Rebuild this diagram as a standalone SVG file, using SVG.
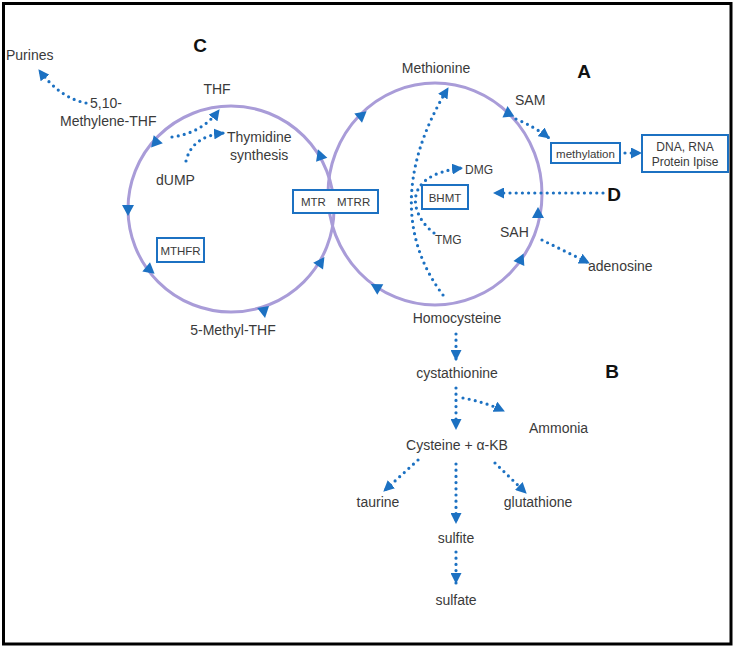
<svg xmlns="http://www.w3.org/2000/svg" xmlns:xlink="http://www.w3.org/1999/xlink" width="734" height="647" viewBox="0 0 734 647">
<style>
.t{font-family:"Liberation Sans",Arial,sans-serif;font-size:14px;fill:#3a3a3a}
.s{font-size:11.5px}
.m{font-size:12px}
.b{font-family:"Liberation Sans",Arial,sans-serif;font-size:19px;font-weight:bold;fill:#111}
.c{text-anchor:middle}
.cyc{fill:none;stroke:#a99cd8;stroke-width:3}
.box{fill:#fff;stroke:#1c71c2;stroke-width:2}
.dot{fill:none;stroke:#1c71c2;stroke-width:3.2;stroke-linecap:round;stroke-dasharray:0 6.2;marker-end:url(#ah)}
.tri{fill:#1c71c2}
</style>
<defs>
<marker id="ah" markerUnits="userSpaceOnUse" viewBox="0 0 11 11" markerWidth="11" markerHeight="11" refX="10" refY="5.5" orient="auto">
<path d="M0,0 L11,5.5 L0,11 z" fill="#1c71c2"/>
</marker>
<path id="tri" d="M6,0 L-5,-6 L-5,6 z"/>
</defs>
<rect x="3.5" y="3.5" width="727.5" height="640.5" fill="#fff" stroke="#000" stroke-width="3"/>

<g id="cycles">
<circle class="cyc" cx="231" cy="209" r="103"/>
<ellipse class="cyc" cx="435" cy="194" rx="107" ry="111"/>
<use href="#tri" class="tri" transform="translate(155,143) rotate(131)"/>
<use href="#tri" class="tri" transform="translate(128,210) rotate(90)"/>
<use href="#tri" class="tri" transform="translate(150,270) rotate(40)"/>
<use href="#tri" class="tri" transform="translate(264,312) rotate(80)"/>
<use href="#tri" class="tri" transform="translate(321,262) rotate(-55)"/>
<use href="#tri" class="tri" transform="translate(320,155) rotate(-110)"/>
<use href="#tri" class="tri" transform="translate(362,115) rotate(-40)"/>
<use href="#tri" class="tri" transform="translate(508,112) rotate(-95)"/>
<use href="#tri" class="tri" transform="translate(538,213) rotate(-90)"/>
<use href="#tri" class="tri" transform="translate(521,259) rotate(-65)"/>
<use href="#tri" class="tri" transform="translate(376,287) rotate(-150)"/>
</g>

<g id="connectors">
<path class="dot" d="M86,103 Q60,98 39,70"/>
<path class="dot" d="M172,137 Q202,133 219,110"/>
<path class="dot" d="M186,161 Q192,136 224,133"/>
<path class="dot" d="M443,295 C405,245 395,175 448,88"/>
<path class="dot" d="M434,233 C410,215 400,175 462,168"/>
<path class="dot" d="M603,193 L494,193"/>
<path class="dot" d="M516,119 Q535,127 549,138"/>
<path class="dot" d="M625,153 L641,153"/>
<path class="dot" d="M542,240 L589,263"/>
<path class="dot" d="M456,334 L456,360"/>
<path class="dot" d="M456,388 L456,429"/>
<path class="dot" d="M463,398 Q485,402 504,411"/>
<path class="dot" d="M418,460 L384,491"/>
<path class="dot" d="M456,464 L456,523"/>
<path class="dot" d="M495,463 L526,493"/>
<path class="dot" d="M456,552 L456,583"/>
</g>

<g id="labels">
<text class="b c" x="200" y="52">C</text>
<text class="b c" x="584" y="78">A</text>
<text class="b c" x="614" y="201">D</text>
<text class="b c" x="612" y="378">B</text>
</g>

<g id="n-purines"><text class="t" x="6" y="60">Purines</text></g>
<g id="n-methylene"><text class="t" x="90" y="108">5,10-</text><text class="t" x="60" y="126">Methylene-THF</text></g>
<g id="n-thf"><text class="t c" x="217" y="94">THF</text></g>
<g id="n-thymidine"><text class="t" x="227" y="142">Thymidine</text><text class="t" x="230" y="160">synthesis</text></g>
<g id="n-dump"><text class="t" x="156" y="185">dUMP</text></g>
<g id="n-mthfr"><rect class="box" x="157" y="238" width="47" height="24"/><text class="t s c" x="180.5" y="254.5">MTHFR</text></g>
<g id="n-5methyl"><text class="t c" x="233" y="335">5-Methyl-THF</text></g>
<g id="n-mtr"><rect class="box" x="293" y="190" width="85" height="23"/><text class="t s" x="301" y="206">MTR</text><text class="t s" x="337" y="206">MTRR</text></g>
<g id="n-methionine"><text class="t c" x="436" y="73">Methionine</text></g>
<g id="n-sam"><text class="t" x="515" y="105">SAM</text></g>
<g id="n-methylation"><rect class="box" x="551" y="143" width="69" height="20"/><text class="t s c" x="585.5" y="157.5">methylation</text></g>
<g id="n-dna"><rect class="box" x="642" y="135" width="86" height="37"/><text class="t m c" x="685" y="151">DNA, RNA</text><text class="t m c" x="685" y="166">Protein Ipise</text></g>
<g id="n-dmg"><text class="t m" x="465" y="174">DMG</text></g>
<g id="n-bhmt"><rect class="box" x="422" y="185" width="46" height="24"/><text class="t s c" x="445" y="201.5">BHMT</text></g>
<g id="n-tmg"><text class="t m" x="435" y="244">TMG</text></g>
<g id="n-sah"><text class="t" x="500" y="237">SAH</text></g>
<g id="n-adenosine"><text class="t" x="588" y="271">adenosine</text></g>
<g id="n-homocysteine"><text class="t c" x="457" y="323">Homocysteine</text></g>
<g id="n-cystathionine"><text class="t c" x="457" y="378">cystathionine</text></g>
<g id="n-ammonia"><text class="t" x="529" y="433">Ammonia</text></g>
<g id="n-cysteine"><text class="t c" x="457" y="450">Cysteine + α-KB</text></g>
<g id="n-taurine"><text class="t c" x="378" y="507">taurine</text></g>
<g id="n-glutathione"><text class="t c" x="538" y="507">glutathione</text></g>
<g id="n-sulfite"><text class="t c" x="456" y="543">sulfite</text></g>
<g id="n-sulfate"><text class="t c" x="456" y="605">sulfate</text></g>
</svg>
